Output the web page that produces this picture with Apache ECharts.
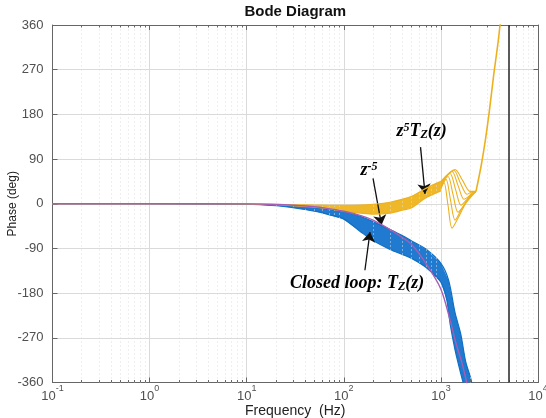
<!DOCTYPE html>
<html><head><meta charset="utf-8">
<script src="https://cdn.jsdelivr.net/npm/echarts@6/dist/echarts.min.js"></script>
<style>html,body{margin:0;padding:0;background:#fff}#c{width:546px;height:418px}</style>
</head><body><div id="c"></div>
<script>
// ---------------- data (frequency in Hz, phase in degrees) ----------------
const xMin = 0.1, xMax = 10000;
const yTicks = [-360, -270, -180, -90, 0, 90, 180, 270, 360];
const nyquistHz = 5000;

const yellowUpperF = [0.1, 1, 10, 20, 30, 50, 70, 100, 150, 200, 300, 400, 500, 700, 1000];
const yellowUpperP = [0, 0, 0, -1, -2, -2.5, -3, -3, -2.5, -1, 3, 9, 15, 31, 45];
const yellowLowerF = [0.1, 1, 10, 20, 30, 50, 70, 100, 150, 200, 300, 400, 500, 700, 1000];
const yellowLowerP = [0, 0, -0.3, -2, -4, -7, -10, -15, -19, -21, -19, -13, -8, 12, 26];

const yellowFan0F = [1000, 1076, 1184, 1301, 1500, 1810, 2299];
const yellowFan0P = [30, 43, -3, -49, -29, 1, 25];
const yellowFan1F = [1000, 1129, 1255, 1398, 1611, 1900, 2299];
const yellowFan1P = [33, 49, 8, -33, -13, 9, 25];
const yellowFan2F = [1000, 1184, 1332, 1500, 1730, 1994, 2299];
const yellowFan2P = [36, 55, 19, -17, -3, 15, 25];
const yellowFan3F = [1000, 1241, 1415, 1611, 1857, 2060, 2299];
const yellowFan3P = [39, 61, 29, -3, 9, 21, 25];
const yellowFan4F = [1000, 1301, 1500, 1730, 1945, 2299];
const yellowFan4P = [41, 65, 37, 9, 15, 25];
const yellowFan5F = [1000, 1364, 1577, 1857, 2040, 2299];
const yellowFan5P = [43, 67, 43, 19, 23, 25];
const yellowFan6F = [1000, 1398, 1670, 1994, 2299];
const yellowFan6P = [45, 69, 47, 25, 25];
const yellowRiseF = [2299, 2600, 2870, 3170, 3500, 3850, 4062, 4300];
const yellowRiseP = [25, 77, 128, 190, 260, 320, 359, 400];

const blueUpperF = [0.1, 1, 10, 20, 30, 50, 70, 100, 150, 200, 300, 400, 500, 700, 1000, 1200, 1400, 1600, 1800, 2050, 2150];
const blueUpperP = [0, 0, -0.5, -2, -4, -7, -11, -15, -26, -36, -52, -64, -75, -91, -120, -154, -220, -262, -318, -355, -380];
const blueLowerF = [0.1, 1, 10, 20, 30, 50, 70, 100, 150, 200, 300, 400, 500, 700, 1000, 1150, 1250, 1400, 1550, 1700, 1800];
const blueLowerP = [0, 0, -1, -4, -8, -15, -22, -31, -57, -74, -92, -102, -110, -128, -158, -194, -244, -295, -331, -361, -375];

const purpleF = [0.1, 1, 10, 20, 30, 50, 70, 100, 150, 200, 300, 400, 500, 700, 1000, 1250, 1420, 1640, 1850, 1950];
const purpleP = [0, 0, -0.3, -1.5, -3, -6, -10, -15, -24, -33, -52, -68, -82, -120, -172, -236, -279, -319, -361, -380];

// annotations: label anchor [Hz, deg] and arrow from -> to
const annZ5Label = [634, 145];
const annZ5Arrow = [[617, 114], [686, 20]];
const annZm5Label = [182, 68];
const annZm5Arrow = [[200, 51], [245, -43]];
const annCLLabel = [137, -161];
const annCLArrow = [[165, -134], [186, -57]];

// ---------------- helpers ----------------
const pairs = (F, P) => F.map((f, i) => [f, P[i]]);
const YEL = '#EDB120', YEL_FILL = '#EFB829', BLU = '#0f6fc4', BLU_FILL = '#1f7ad0', PUR = '#a45fb5';
const minorF = [];
for (let e = -1; e < 4; e++) for (let d = 2; d <= 9; d++) minorF.push(+(d * Math.pow(10, e)).toPrecision(3));

function bandSeries(upF, upP, loF, loP, fill, z) {
  const poly = pairs(upF, upP).concat(pairs(loF, loP).reverse());
  return {
    type: 'custom', coordinateSystem: 'cartesian2d', clip: true, silent: true, z: z,
    data: [[1, 0]],
    renderItem: (params, api) => ({
      type: 'polygon', shape: { points: poly.map(p => api.coord(p)) },
      style: { fill: fill }
    })
  };
}
function lineSeries(F, P, color, width, z) {
  return { type: 'line', data: pairs(F, P), showSymbol: false, symbol: 'none', smooth: 0.3,
    lineStyle: { color: color, width: width }, z: z, silent: true, clip: true, animation: false };
}

const axisFont = 'Liberation Sans, Arial, sans-serif';
const labelColor = '#505050';

const series = [];
series.push({
  type: 'line', data: [], silent: true, z: 1,
  markLine: {
    silent: true, symbol: 'none', animation: false, label: { show: false },
    lineStyle: { color: '#dedede', type: [1, 3], width: 1 },
    data: minorF.map(f => ({ xAxis: f }))
  }
});
series.push({
  type: 'line', data: [], silent: true, z: 10,
  markLine: {
    silent: true, symbol: 'none', animation: false, label: { show: false },
    lineStyle: { color: '#666', type: 'solid', width: 1 },
    data: minorF.map(f => [{ coord: [f, -360] }, { coord: [f, -355] }])
      .concat(minorF.map(f => [{ coord: [f, 360] }, { coord: [f, 355] }]))
  }
});
series.push(bandSeries(blueUpperF, blueUpperP, blueLowerF, blueLowerP, BLU_FILL, 2));
series.push(lineSeries(blueUpperF, blueUpperP, BLU, 1.2, 3));
series.push(lineSeries(blueLowerF, blueLowerP, BLU, 1.2, 3));
series.push(bandSeries(yellowUpperF, yellowUpperP, yellowLowerF, yellowLowerP, YEL_FILL, 4));
series.push(lineSeries(yellowUpperF, yellowUpperP, YEL, 1.2, 5));
series.push(lineSeries(yellowLowerF, yellowLowerP, YEL, 1.2, 5));
[[yellowFan0F, yellowFan0P], [yellowFan1F, yellowFan1P], [yellowFan2F, yellowFan2P], [yellowFan3F, yellowFan3P],
 [yellowFan4F, yellowFan4P], [yellowFan5F, yellowFan5P], [yellowFan6F, yellowFan6P]]
  .forEach(([F, P]) => series.push(lineSeries(F, P, YEL, 1.1, 5)));
series.push(lineSeries(yellowRiseF, yellowRiseP, YEL, 1.6, 5));
series.push(lineSeries(purpleF, purpleP, PUR, 1.4, 6));
series.push({
  type: 'line', data: [], silent: true, z: 8,
  markLine: {
    silent: true, animation: false, label: { show: false },
    symbol: 'none', lineStyle: { color: '#333', type: 'solid', width: 1.6 },
    data: [{ xAxis: nyquistHz }]
  }
});
series.push({
  type: 'line', data: [], silent: true, z: 9,
  markLine: {
    silent: true, animation: false, label: { show: false },
    symbol: ['none', 'arrow'], symbolSize: 10,
    lineStyle: { color: '#111', type: 'solid', width: 1.3 },
    data: [annZ5Arrow, annZm5Arrow, annCLArrow].map(a => [{ coord: a[0] }, { coord: a[1] }])
  }
});

const option = {
  animation: false,
  backgroundColor: '#fff',
  grid: { left: 52.5, right: 8, top: 25, bottom: 35.5, containLabel: false, outerBoundsMode: 'none' },
  xAxis: [{
    type: 'log', logBase: 10, min: xMin, max: xMax, splitNumber: 5,
    name: 'Frequency  (Hz)', nameLocation: 'middle', nameGap: 22, nameMoveOverlap: false,
    nameTextStyle: { fontFamily: axisFont, fontSize: 14, color: '#222' },
    axisLine: { show: true, onZero: false, lineStyle: { color: '#666', width: 1 } },
    axisTick: { show: true, inside: true, length: 5, lineStyle: { color: '#666' } },
    splitLine: { show: true, lineStyle: { color: '#dadada', width: 1 } },
    axisLabel: {
      margin: 2, color: labelColor,
      formatter: v => '{b|10}{s|' + Math.round(Math.log10(v)) + '}',
      rich: {
        b: { fontSize: 13, fontFamily: axisFont, color: labelColor, lineHeight: 18, verticalAlign: 'bottom' },
        s: { fontSize: 9, fontFamily: axisFont, color: labelColor, lineHeight: 6, verticalAlign: 'top' }
      }
    }
  }, {
    type: 'log', logBase: 10, min: xMin, max: xMax, splitNumber: 5, position: 'top',
    axisLine: { show: true, onZero: false, lineStyle: { color: '#666', width: 1 } },
    axisTick: { show: true, inside: true, length: 5, lineStyle: { color: '#666' } },
    axisLabel: { show: false }, splitLine: { show: false }
  }],
  yAxis: [{
    type: 'value', min: -360, max: 360, interval: 90,
    name: 'Phase (deg)', nameLocation: 'middle', nameGap: 34, nameRotate: 90, nameMoveOverlap: false,
    nameTextStyle: { fontFamily: axisFont, fontSize: 12, color: '#222' },
    axisLine: { show: true, lineStyle: { color: '#666', width: 1 } },
    axisTick: { show: true, inside: true, length: 5, lineStyle: { color: '#666' } },
    splitLine: { show: true, lineStyle: { color: '#dadada', width: 1 } },
    axisLabel: { margin: 9, fontSize: 13, fontFamily: axisFont, color: labelColor }
  }, {
    type: 'value', min: -360, max: 360, interval: 90, position: 'right',
    axisLine: { show: true, lineStyle: { color: '#666', width: 1 } },
    axisTick: { show: true, inside: true, length: 5, lineStyle: { color: '#666' } },
    axisLabel: { show: false }, splitLine: { show: false }
  }],
  series: series
};

const chart = echarts.init(document.getElementById('c'), null, { renderer: 'canvas' });
chart.setOption(option);

const serif = 'Liberation Serif, Times New Roman, serif';
const annRich = {
  i: { fontFamily: serif, fontStyle: 'italic', fontWeight: 'bold', fontSize: 18, color: '#111', lineHeight: 19, verticalAlign: 'middle' },
  sup: { fontFamily: serif, fontStyle: 'italic', fontWeight: 'bold', fontSize: 12, color: '#111', lineHeight: 16, verticalAlign: 'top' },
  sub: { fontFamily: serif, fontStyle: 'italic', fontWeight: 'bold', fontSize: 12, color: '#111', lineHeight: 16, verticalAlign: 'bottom' }
};
function annText(pos, text) {
  const p = chart.convertToPixel({ gridIndex: 0 }, pos);
  return { type: 'text', x: p[0], y: p[1], z: 100,
    style: { text: text, rich: annRich, align: 'center', verticalAlign: 'middle' } };
}
const midPlot = chart.convertToPixel({ xAxisIndex: 0 }, 31.62);
chart.setOption({
  graphic: [
    { type: 'text', x: midPlot, y: 4, z: 100,
      style: { text: 'Bode Diagram', fontFamily: axisFont, fontWeight: 'bold', fontSize: 15, fill: '#111', align: 'center' } },
    annText(annZ5Label, '{i|z}{sup|5}{i|T}{sub|Z}{i|(z)}'),
    annText(annZm5Label, '{i|z}{sup|-5}'),
    annText(annCLLabel, '{i|Closed loop: T}{sub|Z}{i|(z)}')
  ]
});
</script></body></html>
